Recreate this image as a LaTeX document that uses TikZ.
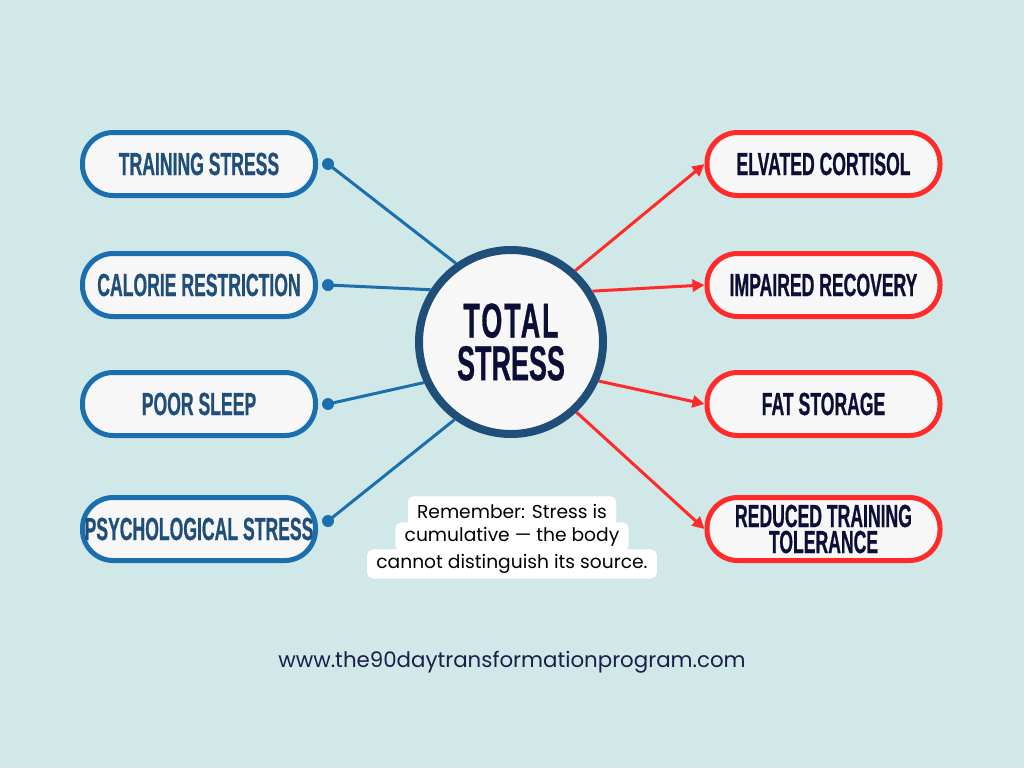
\documentclass[tikz,border=0pt]{standalone}
\usepackage{fontspec}
\usetikzlibrary{arrows.meta}
\newfontfamily\condfont[FakeStretch=0.55,FakeBold=0.6]{Liberation Sans Bold}
\newfontfamily\notefont{Poppins}
\definecolor{bgc}{HTML}{D0E8E8}
\definecolor{boxc}{HTML}{F7F7F7}
\definecolor{bluec}{HTML}{1B6FAE}
\definecolor{ltext}{HTML}{1F4E79}
\definecolor{hubc}{HTML}{1F4E79}
\definecolor{navyc}{HTML}{0B0E35}
\definecolor{redc}{HTML}{FF2B2B}
\definecolor{urlc}{HTML}{1A1F4A}
\begin{document}
\begin{tikzpicture}[x=0.75pt,y=-0.75pt,
  pill/.style={line width=3.75pt, fill=boxc, rounded corners=23pt,
    minimum width=174.75pt, minimum height=47.25pt, inner sep=0pt,
    font=\condfont\fontsize{24}{19.5}\selectfont, align=center},
  lbox/.style={pill, draw=bluec, text=ltext},
  rbox/.style={pill, draw=redc, text=navyc},
  hub/.style={circle, draw=hubc, line width=6pt, fill=boxc, minimum size=138pt,
    inner sep=0pt, text=navyc, align=center,
    font=\condfont\fontsize{36.75}{32}\selectfont},
  dot/.style={circle, fill=bluec, minimum size=9pt, inner sep=0pt},
  link/.style={draw=bluec, line width=2.25pt},
  arr/.style={draw=redc, line width=2.25pt, -{Triangle[length=9pt,width=9pt]}},
  noteline/.style={fill=white, rounded corners=5pt, inner xsep=7pt, inner ysep=0pt,
    minimum height=22pt, text=black, font=\notefont\fontsize{14}{16}\selectfont}
]
\fill[bgc] (0,0) rectangle (1024,768);
\useasboundingbox (0,0) rectangle (1024,768);

% left boxes
\node[lbox] (l1) at (199,164) {TRAINING STRESS};
\node[lbox] (l2) at (199,285) {CALORIE RESTRICTION};
\node[lbox] (l3) at (199,404) {POOR SLEEP};
\node[lbox] (l4) at (199,529) {PSYCHOLOGICAL STRESS};

% right boxes
\node[rbox] (r1) at (823.5,164) {ELVATED CORTISOL};
\node[rbox] (r2) at (823.5,285) {IMPAIRED RECOVERY};
\node[rbox] (r3) at (823.5,404) {FAT STORAGE};
\node[rbox] (r4) at (823.5,529) {REDUCED TRAINING\\TOLERANCE};

% hub
\node[hub] (c) at (511,342) {\addfontfeature{LetterSpace=4}TOTAL\\STRESS};

% dots
\node[dot] (d1) at (328,164) {};
\node[dot] (d2) at (328,285) {};
\node[dot] (d3) at (328,404) {};
\node[dot] (d4) at (328,521) {};

% links
\draw[link] (d1.center) -- (c.125);
\draw[link] (d2.center) -- (c.147);
\draw[link] (d3.center) -- (c.205);
\draw[link] (d4.center) -- (c.234);

% arrows
\draw[arr] (c.48) -- (r1.west);
\draw[arr] (c.32) -- (r2.west);
\draw[arr] (c.-24) -- (r3.west);
\draw[arr] (c.-47) -- (r4.west);

% note
\node[noteline] (n3) at (512,564) {cannot distinguish its source.};
\node[noteline] (n2) at (512,537) {cumulative — the body};
\node[noteline] (n1) at (512,511) {Remember: Stress is};

% url
\node[font=\notefont\fontsize{16}{20}\selectfont, text=urlc] (url) at (512,662)
  {www.the90daytransformationprogram.com};
\end{tikzpicture}
\end{document}
